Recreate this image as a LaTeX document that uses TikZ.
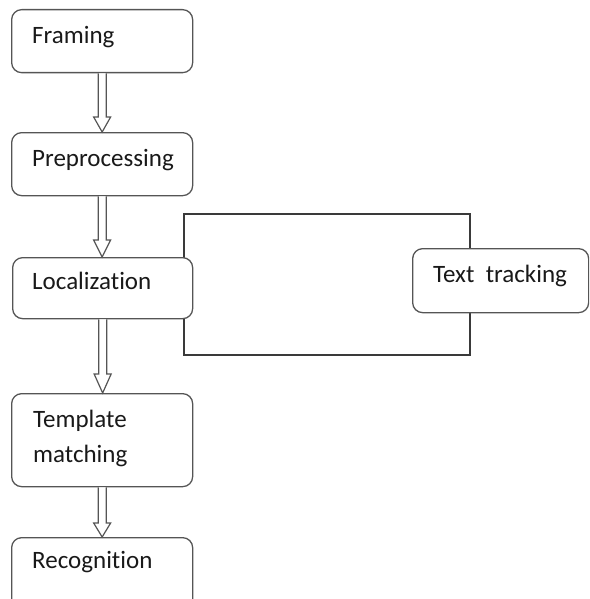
\documentclass[tikz,border=0pt]{standalone}
\usepackage{fontspec}
\setmainfont{Carlito}[Ligatures=NoCommon]
\usetikzlibrary{calc}

\definecolor{edgegray}{HTML}{555555}
\definecolor{loopgray}{HTML}{3A3A3A}

\tikzset{
  stagebox/.style={draw=edgegray, line width=1.3pt, rounded corners=10pt,
    inner sep=0pt, anchor=north west},
  stagelabel/.style={anchor=base west, inner sep=0pt, font=\fontsize{25}{35}\selectfont,
    align=left, text=black!90},
  flowarrow/.style={draw=edgegray, line width=1.2pt, fill=white, line join=miter},
  loopline/.style={draw=loopgray, line width=1.4pt}
}

% hollow block arrow from the bottom of #1 to the top of #2; #3 = head length
\newcommand\hollowarrow[3]{%
  \draw[flowarrow] let \p1=(#1.south), \p2=(#2.north) in
    (\x1-4pt,\y1) -- (\x1-4pt,\y2+#3) -- (\x1-8.5pt,\y2+#3) -- (\x1,\y2)
    -- (\x1+8.5pt,\y2+#3) -- (\x1+4pt,\y2+#3) -- (\x1+4pt,\y1);}

\begin{document}
\begin{tikzpicture}[x=1pt,y=-1pt]
  \useasboundingbox (0,0) rectangle (589,599);
  \clip (0,0) rectangle (589,599);

  % feedback loop around the localization stage
  \coordinate (loopNW) at (184,214);
  \coordinate (loopSE) at (470,355);
  \draw[loopline] (loopNW) rectangle (loopSE);

  % processing stages
  \node[stagebox, minimum width=181pt, minimum height=63pt] (fram) at (11,9) {};
  \node[stagebox, minimum width=181pt, minimum height=63pt] (prep) at (11,132) {};
  \node[stagebox, minimum width=180pt, minimum height=61pt, fill=white] (loc) at (12,257) {};
  \node[stagebox, minimum width=176pt, minimum height=64pt, fill=white] (track) at (412,248) {};
  \node[stagebox, minimum width=181pt, minimum height=93pt] (tmpl) at (11,393) {};
  \node[stagebox, minimum width=181pt, minimum height=75pt] (recog) at (11,537) {};

  \node[stagelabel] (framT) at (32,44) {Framing};
  \node[stagelabel] (prepT) at (32,166) {Preprocessing};
  \node[stagelabel] (locT) at (32,289) {Localization};
  \node[stagelabel] (trackT) at (433,282) {Text\ \ tracking};
  \node[stagelabel] (tmplT1) at (33,427) {Template};
  \node[stagelabel] (tmplT2) at (33,462) {matching};
  \node[stagelabel] (recogT) at (32,568) {Recognition};

  % flow between stages
  \hollowarrow{fram}{prep}{15pt}
  \hollowarrow{prep}{loc}{17pt}
  \hollowarrow{loc}{tmpl}{19pt}
  \hollowarrow{tmpl}{recog}{14pt}
\end{tikzpicture}
\end{document}
